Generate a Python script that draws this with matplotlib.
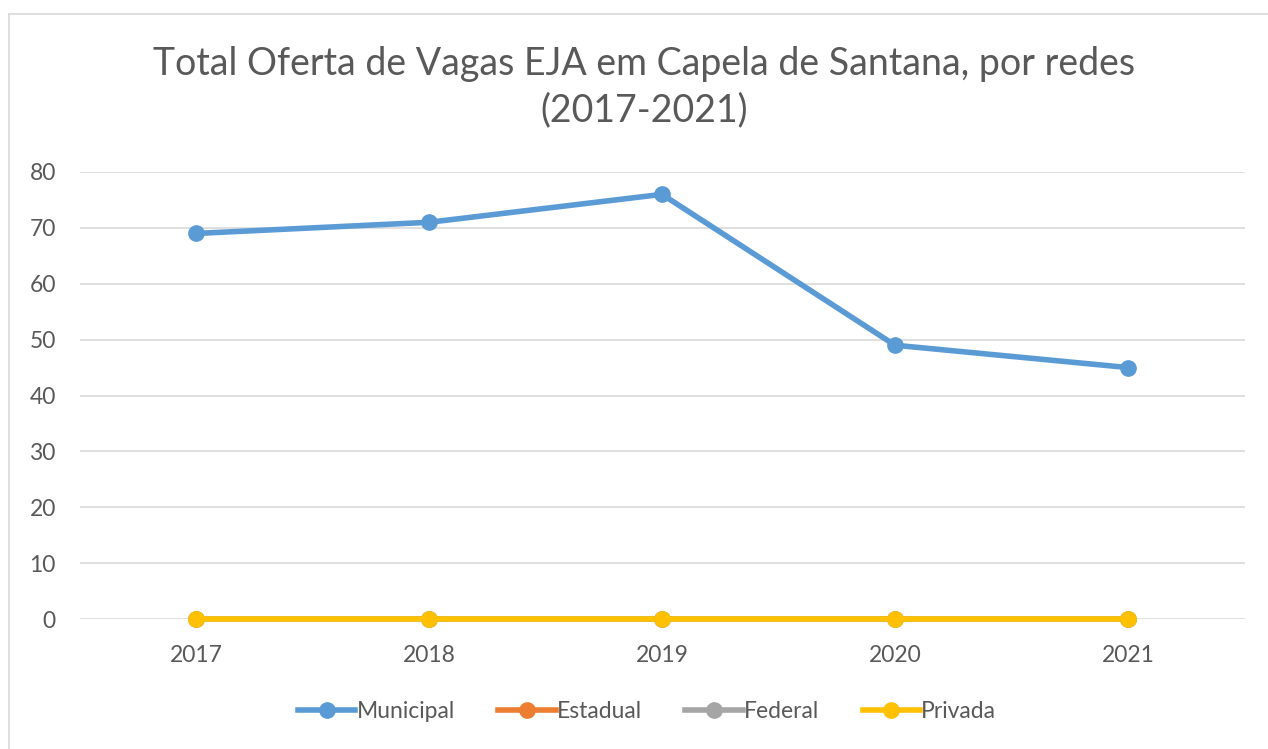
import matplotlib
matplotlib.use("Agg")
import matplotlib.pyplot as plt
from matplotlib.lines import Line2D

years = ["2017", "2018", "2019", "2020", "2021"]
municipal = [69, 71, 76, 49, 45]
estadual = [0, 0, 0, 0, 0]
federal = [0, 0, 0, 0, 0]
privada = [0, 0, 0, 0, 0]
series_names = ["Municipal", "Estadual", "Federal", "Privada"]
colors = ["#5B9BD5", "#ED7D31", "#A5A5A5", "#FFC000"]
title = "Total Oferta de Vagas EJA em Capela de Santana, por redes\n(2017-2021)"
yticks = [0, 10, 20, 30, 40, 50, 60, 70, 80]

plt.rcParams['font.family'] = ['Lato', 'DejaVu Sans']
W, H = 1268, 749
fig = plt.figure(figsize=(W / 100, H / 100), dpi=100)
ax = fig.add_axes([79.5 / W, 1 - 619 / H, (1244.5 - 79.5) / W, (619 - 172) / H])

x = list(range(len(years)))
for name, vals, c in zip(series_names, [municipal, estadual, federal, privada], colors):
    ax.plot(x, vals, color=c, lw=4, marker='o', markersize=11, label=name,
            solid_capstyle='round', zorder=3, clip_on=False)

ax.set_xlim(-0.5, len(years) - 0.5)
ax.set_ylim(0, 80)
ax.set_yticks(yticks)
ax.set_xticks(x)
ax.set_xticklabels(years)
ax.grid(axis='y', color='#D9D9D9', lw=1.2)
ax.set_axisbelow(True)
for s in ax.spines.values():
    s.set_visible(False)
ax.tick_params(length=0, labelsize=16.5, colors='#595959')
ax.tick_params(axis='x', pad=19)
ax.tick_params(axis='y', pad=17)

fig.text(644 / W, 1 - 87 / H, title, ha='center', va='center',
         fontsize=27, color='#595959', linespacing=1.35)

handles = [Line2D([0], [0], color=c, lw=4, marker='o', markersize=11) for c in colors]
fig.legend(handles, series_names, loc='center', bbox_to_anchor=(647 / W, 1 - 712 / H),
           ncol=4, frameon=False, fontsize=16.5, labelcolor='#595959', handlelength=2.5,
           handletextpad=0.05, columnspacing=1.9)

# border (left and top)
fig.add_artist(Line2D([8.5 / W, 8.5 / W], [0, 1 - 13.5 / H], transform=fig.transFigure, color='#D9D9D9', lw=1.2))
fig.add_artist(Line2D([8.5 / W, 1], [1 - 13.5 / H, 1 - 13.5 / H], transform=fig.transFigure, color='#D9D9D9', lw=1.2))

fig.savefig("out.png", dpi=100, facecolor='white')
